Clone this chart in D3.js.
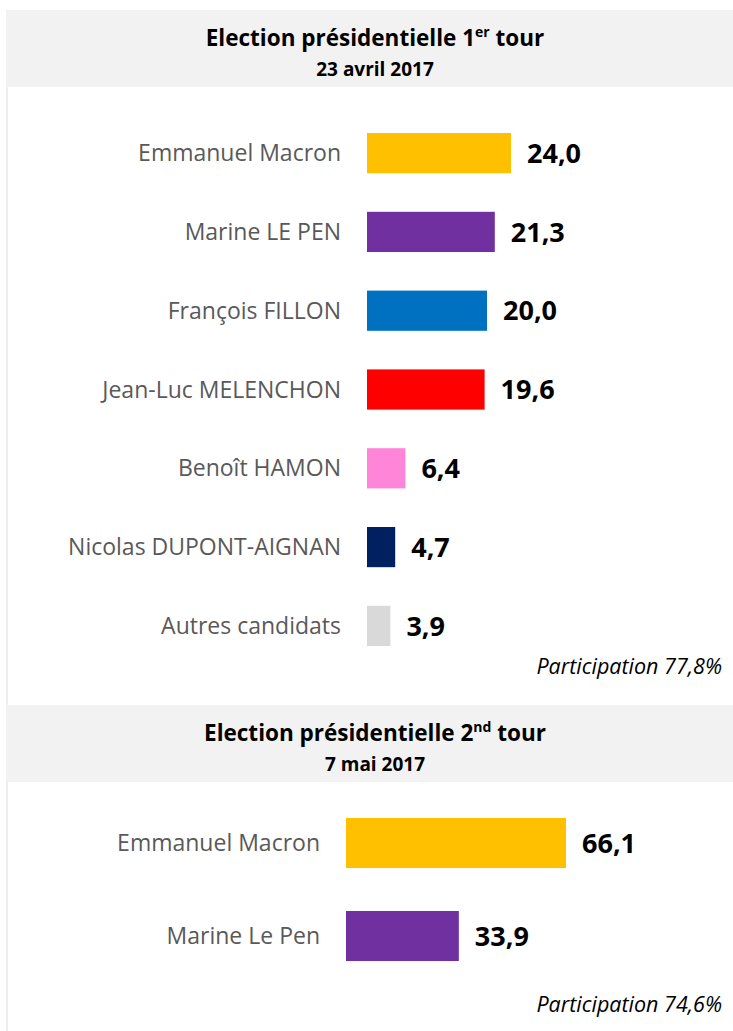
<!DOCTYPE html>
<html>
<head>
<meta charset="utf-8">
<script src="https://cdn.jsdelivr.net/npm/d3@7"></script>
<style>
  body { margin: 0; background: #fff; }
  .label { font-family: "Open Sans", sans-serif; fill: #595959; }
  .value { font-family: "Open Sans", sans-serif; font-weight: bold; fill: #000; }
  .title { font-family: "Open Sans", sans-serif; font-weight: bold; fill: #000; }
  .note { font-family: "Open Sans", sans-serif; font-style: italic; fill: #000; }
</style>
</head>
<body>
<svg id="chart"></svg>
<script>
// 1er tour
const round1Candidates = ['Emmanuel Macron', 'Marine LE PEN', 'François FILLON', 'Jean-Luc MELENCHON',
  'Benoît HAMON', 'Nicolas DUPONT-AIGNAN', 'Autres candidats'];
const round1Values = [24.0, 21.3, 20.0, 19.6, 6.4, 4.7, 3.9];
const round1Turnout = '77,8%';

// 2nd tour
const round2Candidates = ['Emmanuel Macron', 'Marine Le Pen'];
const round2Values = [66.1, 33.9];
const round2Turnout = '74,6%';

// couleurs par candidat
const partyColor = d3.scaleOrdinal()
  .domain(['Emmanuel Macron', 'Marine LE PEN', 'François FILLON', 'Jean-Luc MELENCHON',
    'Benoît HAMON', 'Nicolas DUPONT-AIGNAN', 'Autres candidats', 'Marine Le Pen'])
  .range(['#ffc000', '#7030a0', '#0070c0', '#ff0000', '#ff85d8', '#002060', '#d9d9d9', '#7030a0']);

const width = 733, height = 1031;
const fmt = v => d3.format('.1f')(v).replace('.', ',');

const svg = d3.select('#chart')
  .attr('width', width)
  .attr('height', height);

// light frame on the left
svg.append('rect')
  .attr('x', 6).attr('y', 10)
  .attr('width', 2).attr('height', height - 10)
  .attr('fill', '#eeeeee');

function drawPanel(cfg) {
  const g = svg.append('g');

  // header band
  g.append('rect')
    .attr('x', 6).attr('y', cfg.top)
    .attr('width', width - 6).attr('height', 77)
    .attr('fill', '#f2f2f2');

  const title = g.append('text')
    .attr('class', 'title')
    .attr('x', 375).attr('y', cfg.top + 36)
    .attr('text-anchor', 'middle')
    .attr('font-size', 22.5);
  title.append('tspan').text('Election présidentielle ' + cfg.round);
  title.append('tspan').attr('dy', -9).attr('font-size', 14).text(cfg.sup);
  title.append('tspan').attr('dy', 9).text(' tour');

  g.append('text')
    .attr('class', 'title')
    .attr('x', 375).attr('y', cfg.top + 66)
    .attr('text-anchor', 'middle')
    .attr('font-size', 19)
    .text(cfg.date);

  const xScale = d3.scaleLinear()
    .domain(cfg.xDomain)
    .range([cfg.x0, cfg.x1]);

  const yScale = d3.scaleBand()
    .domain(cfg.names)
    .range(cfg.yRange)
    .padding(cfg.padding);

  const rows = g.selectAll('.row')
    .data(cfg.names.map((n, i) => ({name: n, value: cfg.values[i]})))
    .enter()
    .append('g')
    .attr('class', 'row');

  rows.append('rect')
    .attr('x', xScale(0))
    .attr('y', d => yScale(d.name))
    .attr('width', d => xScale(d.value) - xScale(0))
    .attr('height', yScale.bandwidth())
    .attr('fill', d => partyColor(d.name));

  rows.append('text')
    .attr('class', 'label')
    .attr('x', xScale(0) - 26)
    .attr('y', d => yScale(d.name) + yScale.bandwidth() / 2)
    .attr('dy', '0.35em')
    .attr('text-anchor', 'end')
    .attr('font-size', 23)
    .text(d => d.name);

  rows.append('text')
    .attr('class', 'value')
    .attr('x', d => xScale(d.value) + 16)
    .attr('y', d => yScale(d.name) + yScale.bandwidth() / 2)
    .attr('dy', '0.36em')
    .attr('font-size', 27)
    .text(d => fmt(d.value));

  g.append('text')
    .attr('class', 'note')
    .attr('x', 722).attr('y', cfg.noteY)
    .attr('text-anchor', 'end')
    .attr('font-size', 21.5)
    .text('Participation ' + cfg.turnout);
}

drawPanel({
  top: 10, round: '1', sup: 'er', date: '23 avril 2017',
  names: round1Candidates, values: round1Values, turnout: round1Turnout,
  xDomain: [0, 24], x0: 367, x1: 511,
  yRange: [94.4, 684.6], padding: 0.49,
  noteY: 674
});

drawPanel({
  top: 705, round: '2', sup: 'nd', date: '7 mai 2017',
  names: round2Candidates, values: round2Values, turnout: round2Turnout,
  xDomain: [0, 66.1], x0: 346, x1: 566,
  yRange: [775, 1004], padding: 0.462,
  noteY: 1012
});
</script>
</body>
</html>
